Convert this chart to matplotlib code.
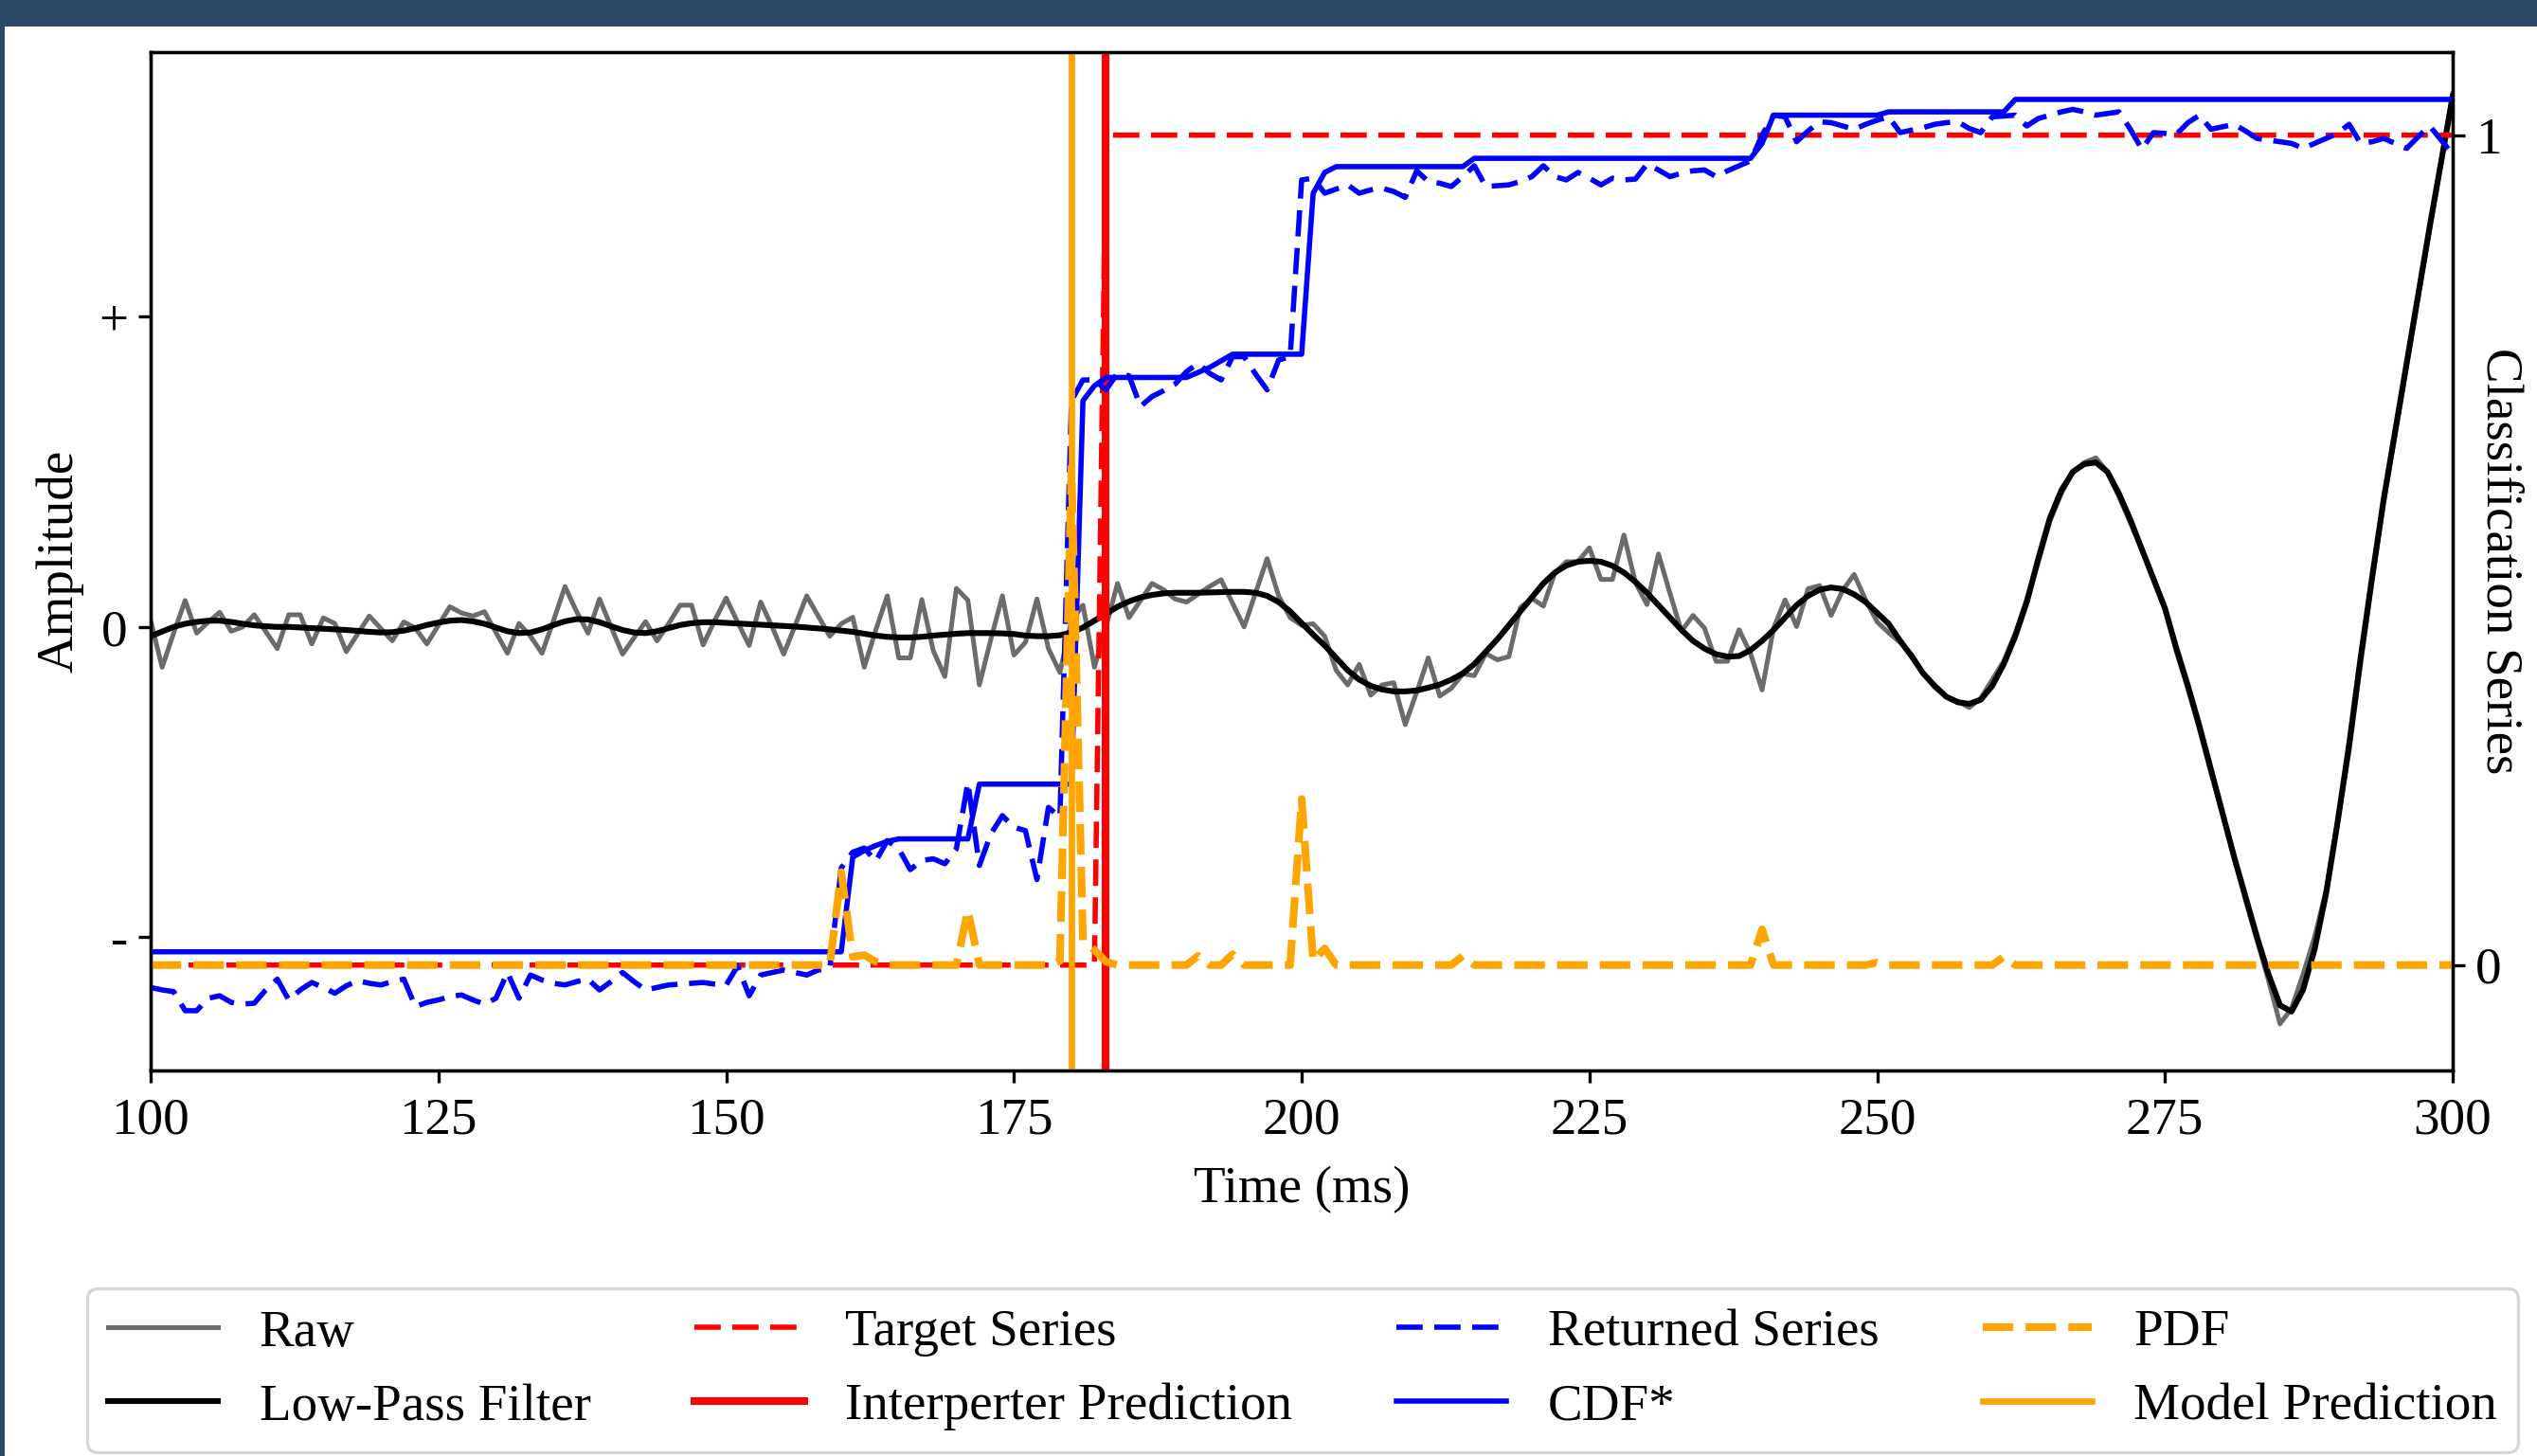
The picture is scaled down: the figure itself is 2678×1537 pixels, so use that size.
import numpy as np
import matplotlib
matplotlib.use("Agg")
import matplotlib.pyplot as plt
from matplotlib.patches import Rectangle

# ---------------- data ----------------
t_ms = np.arange(100, 301)          # 1 ms sampling, 100 .. 300 ms

raw = [
    0.02, -0.13, -0.02, 0.085, -0.02, 0.015, 0.047, -0.014, 0.0, 0.039,      # 100-109
    -0.015, -0.07, 0.039, 0.039, -0.055, 0.029, 0.011, -0.08, -0.022, 0.035,  # 110-119
    -0.005, -0.045, 0.016, -0.004, -0.055, 0.005, 0.065, 0.045, 0.035, 0.049, # 120-129
    -0.018, -0.085, 0.011, -0.03, -0.085, 0.02, 0.13, 0.05, -0.02, 0.09,      # 130-139
    0.0, -0.088, -0.035, 0.017, -0.045, 0.01, 0.07, 0.07, -0.058, 0.02,       # 140-149
    0.093, 0.015, -0.06, 0.08, 0.0, -0.088, 0.005, 0.1, 0.035, -0.03,         # 150-159
    0.01, 0.031, -0.13, -0.01, 0.1, -0.1, -0.1, 0.088, -0.077, -0.16,         # 160-169
    0.124, 0.086, -0.187, -0.04, 0.1, -0.091, -0.05, 0.09, -0.07, -0.147,     # 170-179
    0.02, 0.07, -0.13, 0.0, 0.14, 0.03, 0.085, 0.14, 0.12, 0.09,              # 180-189
    0.08, 0.105, 0.13, 0.152, 0.076, 0.0, 0.11, 0.22, 0.1, 0.03,              # 190-199
    0.005, 0.01, -0.03, -0.14, -0.187, -0.121, -0.22, -0.187, -0.18, -0.315,  # 200-209
    -0.21, -0.1, -0.223, -0.198, -0.152, -0.157, -0.086, -0.106, -0.096, 0.062,  # 210-219
    0.092, 0.067, 0.174, 0.21, 0.21, 0.255, 0.153, 0.153, 0.296, 0.143,       # 220-229
    0.072, 0.235, 0.108, -0.014, 0.037, -0.004, -0.111, -0.111, -0.009, -0.086,  # 230-239
    -0.203, -0.004, 0.087, 0.001, 0.123, 0.133, 0.037, 0.118, 0.169, 0.087,   # 240-249
    0.016, -0.019, -0.05, -0.09, -0.15, -0.195, -0.225, -0.24, -0.26, -0.23,  # 250-259
    -0.17, -0.11, -0.02, 0.09, 0.21, 0.34, 0.43, 0.5, 0.53, 0.545,            # 260-269
    0.5, 0.42, 0.335, 0.25, 0.16, 0.06, -0.08, -0.2, -0.33, -0.47,            # 270-279
    -0.6, -0.74, -0.88, -1.01, -1.14, -1.28, -1.23, -1.12, -1.0, -0.85,       # 280-289
    -0.63, -0.4, -0.12, 0.15, 0.4, 0.62, 0.84, 1.06, 1.28, 1.5,               # 290-299
    1.72,                                                                      # 300
]

lowpass = [
    -0.03, -0.015, 0.0, 0.01, 0.016, 0.02, 0.02, 0.016, 0.01, 0.005,          # 100-109
    0.002, 0.0, 0.0, -0.002, -0.004, -0.006, -0.008, -0.01, -0.013, -0.016,   # 110-119
    -0.018, -0.017, -0.012, -0.004, 0.006, 0.014, 0.02, 0.022, 0.018, 0.01,   # 120-129
    -0.002, -0.014, -0.02, -0.018, -0.008, 0.006, 0.018, 0.025, 0.024, 0.015, # 130-139
    0.002, -0.01, -0.018, -0.02, -0.014, -0.004, 0.006, 0.012, 0.015, 0.015,  # 140-149
    0.013, 0.011, 0.009, 0.007, 0.005, 0.003, 0.001, -0.002, -0.005, -0.008,  # 150-159
    -0.012, -0.016, -0.022, -0.028, -0.032, -0.034, -0.034, -0.032, -0.028, -0.025,  # 160-169
    -0.022, -0.02, -0.02, -0.02, -0.021, -0.023, -0.028, -0.03, -0.03, -0.027,  # 170-179
    -0.018, -0.002, 0.02, 0.042, 0.065, 0.082, 0.095, 0.103, 0.108, 0.11,     # 180-189
    0.11, 0.11, 0.111, 0.112, 0.113, 0.113, 0.11, 0.1, 0.08, 0.05,            # 190-199
    0.012, -0.025, -0.06, -0.1, -0.14, -0.17, -0.19, -0.202, -0.208, -0.208,  # 200-209
    -0.205, -0.196, -0.186, -0.17, -0.15, -0.12, -0.08, -0.04, 0.005, 0.05,   # 210-219
    0.095, 0.14, 0.175, 0.198, 0.21, 0.213, 0.21, 0.197, 0.175, 0.145,        # 220-229
    0.11, 0.07, 0.03, -0.01, -0.045, -0.07, -0.088, -0.096, -0.094, -0.075,   # 230-239
    -0.045, -0.01, 0.03, 0.07, 0.1, 0.12, 0.127, 0.122, 0.105, 0.08,          # 240-249
    0.045, 0.01, -0.045, -0.095, -0.15, -0.19, -0.225, -0.243, -0.248, -0.235, # 250-259
    -0.19, -0.12, -0.03, 0.08, 0.22, 0.35, 0.44, 0.5, 0.525, 0.53,            # 260-269
    0.5, 0.43, 0.345, 0.25, 0.155, 0.06, -0.07, -0.19, -0.32, -0.46,          # 270-279
    -0.6, -0.74, -0.87, -1.0, -1.12, -1.22, -1.24, -1.17, -1.04, -0.86,       # 280-289
    -0.63, -0.38, -0.1, 0.16, 0.41, 0.63, 0.85, 1.07, 1.29, 1.5,              # 290-299
    1.71,                                                                      # 300
]

target = [0] * 83 + [1] * 118        # 100-182 -> 0, 183-300 -> 1

returned = [
    -0.027, -0.03, -0.032, -0.055, -0.055, -0.04, -0.037, -0.045, -0.047, -0.046,   # 100-109
    -0.03, -0.017, -0.042, -0.03, -0.021, -0.027, -0.034, -0.025, -0.019, -0.022,   # 110-119
    -0.024, -0.02, -0.017, -0.05, -0.045, -0.042, -0.038, -0.036, -0.042, -0.047,   # 120-129
    -0.04, -0.009, -0.04, -0.012, -0.018, -0.022, -0.024, -0.02, -0.017, -0.03,     # 130-139
    -0.02, -0.009, -0.02, -0.03, -0.027, -0.024, -0.023, -0.022, -0.021, -0.023,    # 140-149
    -0.024, -0.001, -0.037, -0.012, -0.009, -0.006, -0.009, -0.012, -0.006, -0.004, # 150-159
    0.117, 0.136, 0.141, 0.125, 0.15, 0.14, 0.115, 0.126, 0.128, 0.122,             # 160-169
    0.14, 0.22, 0.12, 0.158, 0.18, 0.166, 0.162, 0.103, 0.19, 0.178,                # 170-179
    0.68, 0.705, 0.705, 0.693, 0.713, 0.71, 0.673, 0.685, 0.692, 0.7,               # 180-189
    0.715, 0.725, 0.713, 0.705, 0.733, 0.733, 0.712, 0.693, 0.729, 0.733,           # 190-199
    0.946, 0.948, 0.93, 0.935, 0.94, 0.93, 0.934, 0.936, 0.932, 0.925,              # 200-209
    0.957, 0.944, 0.942, 0.938, 0.95, 0.963, 0.938, 0.939, 0.94, 0.944,             # 210-219
    0.95, 0.963, 0.95, 0.946, 0.955, 0.948, 0.94, 0.948, 0.946, 0.947,              # 220-229
    0.965, 0.958, 0.95, 0.954, 0.957, 0.958, 0.95, 0.957, 0.963, 0.969,             # 230-239
    1.0, 1.024, 1.022, 0.992, 1.005, 1.016, 1.015, 1.011, 1.007, 1.013,             # 240-249
    1.018, 1.022, 1.003, 1.006, 1.009, 1.013, 1.015, 1.016, 1.008, 1.003,           # 250-259
    1.022, 1.023, 1.024, 1.011, 1.02, 1.024, 1.028, 1.031, 1.028, 1.024,            # 260-269
    1.026, 1.028, 1.007, 0.983, 1.003, 1.002, 1.001, 1.015, 1.024, 1.007,           # 270-279
    1.01, 1.013, 1.005, 0.996, 0.994, 0.992, 0.99, 0.984, 0.99, 0.996,              # 280-289
    1.002, 1.013, 0.99, 0.992, 0.996, 0.99, 0.984, 0.998, 1.011, 0.994,             # 290-299
    0.977,                                                                           # 300
]

cdf = ([0.016] * 61 + [0.13, 0.138, 0.144, 0.149] + [0.152] * 7 + [0.218] * 9
       + [0.68, 0.698] + [0.708] * 8 + [0.714, 0.72, 0.728] + [0.736] * 7
       + [0.93, 0.955] + [0.962] * 12 + [0.972] * 25 + [0.99]
       + [1.024] * 10 + [1.028] * 11 + [1.043] * 39)

pdf = ([0.0] * 60 + [0.112, 0.01, 0.012, 0.004] + [0.0] * 7 + [0.066]
       + [0.0] * 7 + [0.005, 0.6, 0.03, 0.018, 0.004] + [0.0] * 7 + [0.011]
       + [0.0] * 2 + [0.013] + [0.0] * 5 + [0.2, 0.005, 0.02] + [0.0] * 11
       + [0.011] + [0.0] * 25 + [0.043] + [0.0] * 9 + [0.003] + [0.0] * 10
       + [0.01] + [0.0] * 39)

model_prediction_ms = 180.0
interpreter_prediction_ms = 183.0

x_ticks = [100, 125, 150, 175, 200, 225, 250, 275, 300]
amp_ticks = [-1, 0, 1]
amp_tick_labels = ['-', '0', '+']
cls_ticks = [0, 1]
cls_tick_labels = ['0', '1']

# ---------------- figure ----------------
plt.rcParams['font.family'] = 'serif'
plt.rcParams['font.serif'] = ['Liberation Serif', 'DejaVu Serif']
FS = 19.8

W, H = 2678, 1537
fig = plt.figure(figsize=(W / 200, H / 200), dpi=200)
fig.patch.set_facecolor('#2b4866')
fig.add_artist(Rectangle((5 / W, 0), 1, 1 - 28 / H, transform=fig.transFigure,
                         facecolor='white', edgecolor='none', zorder=-10))

L, R, T, B = 159 / W, 2589 / W, 1 - 55 / H, 1 - 1130 / H
ax1 = fig.add_axes([L, B, R - L, T - B])
ax2 = ax1.twinx()

h_raw, = ax1.plot(t_ms, raw, color='#6b6b6b', lw=1.8, label='Raw')
h_lp, = ax1.plot(t_ms, lowpass, color='black', lw=2.2, label='Low-Pass Filter')

h_tg, = ax2.plot(t_ms, target, color='red', ls='--', dashes=(5, 2.2), lw=2.0,
                 label='Target Series')
h_ip = ax2.axvline(interpreter_prediction_ms, color='red', lw=2.9,
                   label='Interperter Prediction')
h_rs, = ax2.plot(t_ms, returned, color='blue', ls='--', dashes=(5, 2.2), lw=2.0,
                 label='Returned Series')
h_cdf, = ax2.plot(t_ms, cdf, color='blue', lw=2.0, label='CDF*')
h_pdf, = ax2.plot(t_ms, pdf, color='orange', ls='--', dashes=(4, 1.6), lw=2.9,
                  label='PDF')
h_mp = ax2.axvline(model_prediction_ms, color='orange', lw=2.4,
                   label='Model Prediction')

ax1.set_xlim(100, 300)
ax1.set_ylim(-1.43, 1.853)
ax2.set_ylim(-0.127, 1.10)
ax1.set_xticks(x_ticks)
ax1.set_yticks(amp_ticks)
ax1.set_yticklabels(amp_tick_labels)
ax2.set_yticks(cls_ticks)
ax2.set_yticklabels(cls_tick_labels)

for ax in (ax1, ax2):
    for s in ax.spines.values():
        s.set_linewidth(1.2)
    ax.tick_params(axis='both', which='major', labelsize=FS, length=4.7,
                   width=1.2, direction='out', pad=4)
ax1.tick_params(axis='x', pad=5.5)

ax1.set_xlabel('Time (ms)', fontsize=FS, labelpad=8)
ax1.set_ylabel('Amplitude', fontsize=FS)
ax1.yaxis.set_label_coords(-0.029, 0.5)
ax2.set_ylabel('Classification Series', fontsize=FS, rotation=270, va='center')
ax2.yaxis.set_label_coords(1.0206, 0.5)

handles = [h_raw, h_lp, h_tg, h_ip, h_rs, h_cdf, h_pdf, h_mp]
labels = [h.get_label() for h in handles]
leg = fig.legend(handles, labels, loc='upper left',
                 bbox_to_anchor=(92 / W, 1 - 1360 / H, (2658 - 92) / W, 0),
                 mode='expand', ncol=4, fontsize=FS, frameon=True, fancybox=True,
                 edgecolor='#cccccc', handlelength=2.1, borderaxespad=0)
leg.get_frame().set_linewidth(1.2)

fig.savefig('out.png', dpi=200, facecolor=fig.get_facecolor())
